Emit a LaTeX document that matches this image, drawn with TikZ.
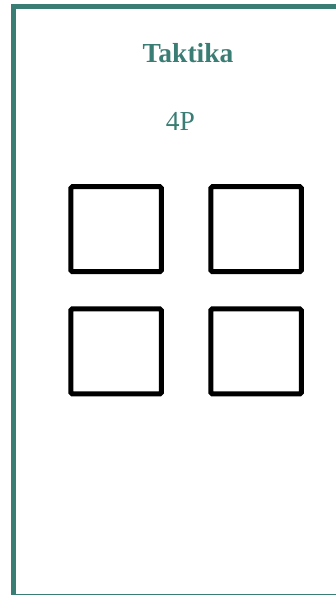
\documentclass[tikz,border=0pt]{standalone}
\usepackage{fontspec}
\setmainfont{Liberation Serif}
\usetikzlibrary{positioning}
\definecolor{tealframe}{RGB}{58,125,116}

\begin{document}
\begin{tikzpicture}[x=1pt,y=-1pt,
  cell/.style={draw=black,line width=5pt,rounded corners=1.5pt,minimum width=90.5pt,minimum height=85pt,inner sep=0pt},
  every node/.style={text=tealframe}]
\useasboundingbox (0,0) rectangle (336,595);
\clip (0,0) rectangle (336,595);
\draw[tealframe,line width=4.5pt] (13.5,6.7) rectangle (350,596);
\node[font=\fontsize{27.5}{30}\selectfont\bfseries,anchor=base] (title) at (188,62) {Taktika};
\node[font=\fontsize{27.5}{30}\selectfont,anchor=base] (sub) at (180.5,130.7) {4P};
\node[cell] (c11) at (116.1,229.2) {};
\node[cell] (c12) at (256.1,229.2) {};
\node[cell] (c21) at (116.1,351.4) {};
\node[cell] (c22) at (256.1,351.4) {};
\end{tikzpicture}
\end{document}
